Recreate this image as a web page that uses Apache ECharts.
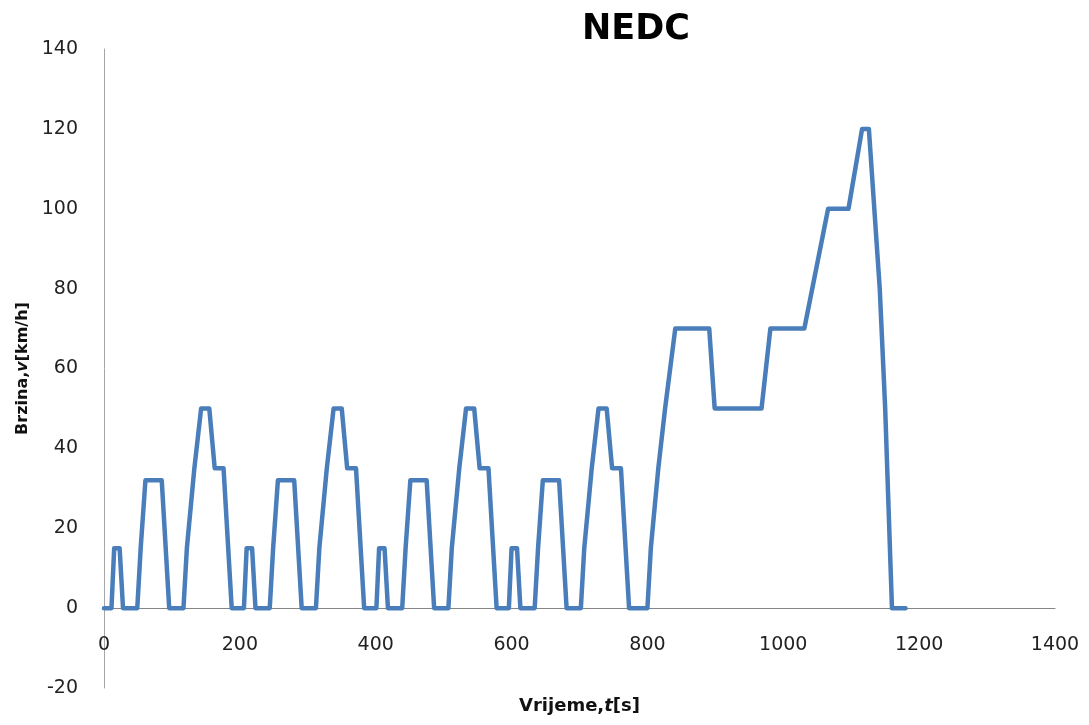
<!DOCTYPE html>
<html>
<head>
<meta charset="utf-8">
<script src="https://cdn.jsdelivr.net/npm/echarts@6/dist/echarts.min.js"></script>
<style>
html,body{margin:0;padding:0;background:#fff;}
#chart{width:1089px;height:725px;}
</style>
</head>
<body>
<div id="chart"></div>
<script>
// NEDC driving cycle: time [s] and speed [km/h] breakpoints
const timeS = [
  0, 11, 15, 23, 28, 49, 54, 56, 61, 85, 96, 117, 122, 124, 133, 135, 143, 155, 163, 176, 188,
  206, 210, 218, 223, 244, 249, 251, 256, 280, 291, 312, 317, 319, 328, 330, 338, 350, 358, 371, 383,
  401, 405, 413, 418, 439, 444, 446, 451, 475, 486, 507, 512, 514, 523, 525, 533, 545, 553, 566, 578,
  596, 600, 608, 613, 634, 639, 641, 646, 670, 681, 702, 707, 709, 718, 720, 728, 740, 748, 761, 773,
  800, 805, 807, 816, 818, 826, 828, 841, 891, 899, 968, 981, 1031, 1066, 1096, 1116, 1126, 1142, 1150, 1160, 1180
];
const speedKmh = [
  0, 0, 15, 15, 0, 0, 15, 15, 32, 32, 0, 0, 15, 15, 35, 35, 50, 50, 35, 35, 0,
  0, 15, 15, 0, 0, 15, 15, 32, 32, 0, 0, 15, 15, 35, 35, 50, 50, 35, 35, 0,
  0, 15, 15, 0, 0, 15, 15, 32, 32, 0, 0, 15, 15, 35, 35, 50, 50, 35, 35, 0,
  0, 15, 15, 0, 0, 15, 15, 32, 32, 0, 0, 15, 15, 35, 35, 50, 50, 35, 35, 0,
  0, 15, 15, 35, 35, 50, 50, 70, 70, 50, 50, 70, 70, 100, 100, 120, 120, 80, 50, 0, 0
];
const xTicks = [0, 200, 400, 600, 800, 1000, 1200, 1400];
const yTicks = [-20, 0, 20, 40, 60, 80, 100, 120, 140];

const titleText = 'NEDC';

const points = timeS.map((t, i) => [t, speedKmh[i]]);

const chart = echarts.init(document.getElementById('chart'), null, {renderer: 'canvas'});
const labelFont = 'DejaVu Sans';
chart.setOption({
  animation: false,
  backgroundColor: '#ffffff',
  grid: {left: 104, right: 34, top: 49, bottom: 37, containLabel: false, outerBoundsMode: 'none'},
  title: {
    text: titleText,
    left: 631, top: 7, textAlign: 'center',
    textStyle: {fontFamily: labelFont, fontWeight: 'bold', fontSize: 35, color: '#000'}
  },
  xAxis: {
    type: 'value',
    min: xTicks[0], max: xTicks[xTicks.length - 1], interval: 200,
    offset: -80,
    axisLine: {show: true, onZero: false, lineStyle: {color: '#868686', width: 1}},
    axisTick: {show: false},
    splitLine: {show: false},
    axisLabel: {margin: 28, fontFamily: labelFont, fontSize: 19, color: '#222', formatter: v => String(v)},
    name: '{b|Vrijeme,}{i|t}{b|[s]}',
    nameLocation: 'middle',
    nameGap: 89,
    nameTextStyle: {
      rich: {
        b: {fontFamily: labelFont, fontWeight: 'bold', fontSize: 18, color: '#111'},
        i: {fontFamily: labelFont, fontWeight: 'bold', fontStyle: 'italic', fontSize: 18, color: '#111'}
      }
    }
  },
  yAxis: {
    type: 'value',
    min: yTicks[0], max: yTicks[yTicks.length - 1], interval: 20,
    axisLine: {show: true, lineStyle: {color: '#a6a6a6', width: 1}},
    axisTick: {show: false},
    splitLine: {show: false},
    axisLabel: {margin: 26, fontFamily: labelFont, fontSize: 19, color: '#222', formatter: v => String(v)},
    name: '{b|Brzina,}{i|v}{b|[km/h]}',
    nameLocation: 'middle',
    nameGap: 67,
    nameTextStyle: {
      rich: {
        b: {fontFamily: labelFont, fontWeight: 'bold', fontSize: 16, color: '#111'},
        i: {fontFamily: labelFont, fontWeight: 'bold', fontStyle: 'italic', fontSize: 16, color: '#111'}
      }
    }
  },
  series: [{
    type: 'line',
    data: points,
    showSymbol: false,
    symbol: 'none',
    lineStyle: {color: '#4a7ebb', width: 4.5, cap: 'round', join: 'round'},
    z: 3
  }]
});
</script>
</body>
</html>
